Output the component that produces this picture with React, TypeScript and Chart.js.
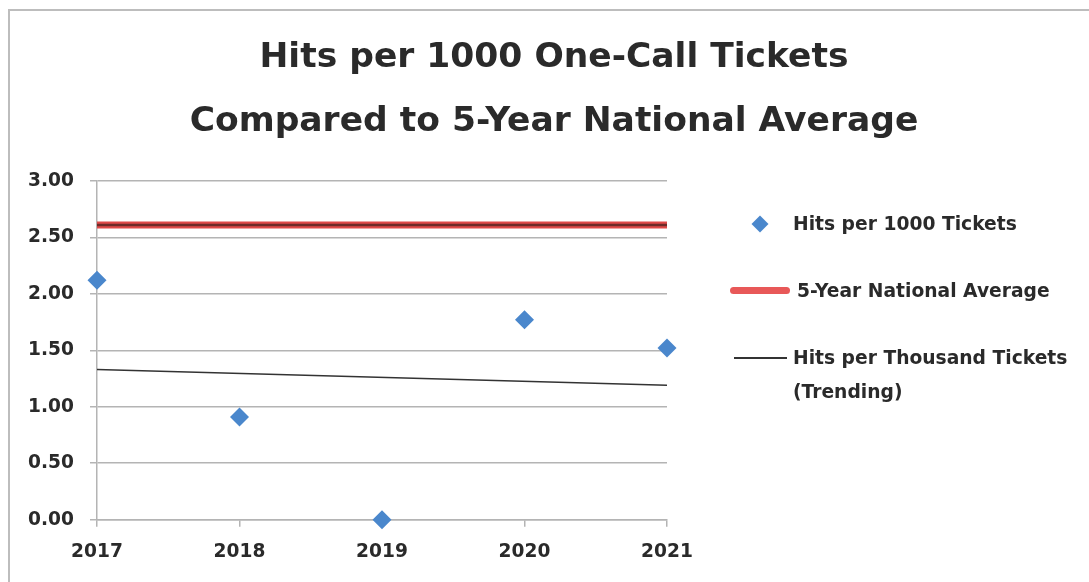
import React, { useEffect, useRef } from "react";
import { Chart, registerables } from "chart.js";

Chart.register(...registerables);

const years = ["2017", "2018", "2019", "2020", "2021"];
const hitsPer1000 = [2.12, 0.91, 0.0, 1.77, 1.52];
const nationalAverage = [2.61, 2.61, 2.61, 2.61, 2.61];
const trendEnds = [1.33, null, null, null, 1.19];
const yTicks = [0, 0.5, 1, 1.5, 2, 2.5, 3];
const titleLines = ["Hits per 1000 One-Call Tickets", "Compared to 5-Year National Average"];
const legendLabels = ["Hits per 1000 Tickets", "5-Year National Average", "Hits per Thousand Tickets", "(Trending)"];

const FONT = "'DejaVu Sans', Lato, sans-serif";
const TEXT = "#2a2a2a";
const GRID = "#b4b4b4";

export default function App() {
  const ref = useRef<HTMLCanvasElement | null>(null);

  useEffect(() => {
    if (!ref.current) return;
    const chart = new Chart(ref.current, {
      type: "line",
      data: {
        labels: years,
        datasets: [
          {
            label: "5-Year National Average",
            data: nationalAverage,
            borderColor: "#e04a48",
            borderWidth: 7,
            pointRadius: 0,
            order: 3,
          },
          {
            label: "5-Year National Average (core)",
            data: nationalAverage,
            borderColor: "#6e2b28",
            borderWidth: 2.5,
            pointRadius: 0,
            order: 2,
          },
          {
            label: "Hits per Thousand Tickets (Trending)",
            data: trendEnds,
            borderColor: "#333333",
            borderWidth: 1.5,
            pointRadius: 0,
            spanGaps: true,
            order: 1,
          },
          {
            label: "Hits per 1000 Tickets",
            data: hitsPer1000,
            showLine: false,
            pointStyle: "rectRot",
            pointRadius: 9.5,
            pointBackgroundColor: "#4a87cc",
            pointBorderColor: "#4a87cc",
            pointBorderWidth: 0,
            clip: false,
            order: 0,
          },
        ],
      },
      options: {
        animation: false,
        responsive: false,
        maintainAspectRatio: false,
        layout: { padding: { left: 9, right: 0, top: 0, bottom: 5 } },
        plugins: {
          legend: { display: false },
          tooltip: { enabled: false },
          title: {
            display: true,
            text: titleLines,
            color: TEXT,
            font: { family: FONT, size: 34.5, weight: "bold", lineHeight: 1.855 },
            padding: { top: 15.5, bottom: 26.5 },
          },
        },
        scales: {
          x: {
            type: "category",
            offset: false,
            grid: { display: true, drawOnChartArea: false, drawTicks: true, tickLength: 7, color: GRID, lineWidth: 1.5 },
            border: { display: true, color: GRID, width: 1.5 },
            ticks: { color: TEXT, font: { family: FONT, size: 18.6, weight: "bold" }, padding: 14, maxRotation: 0 },
          },
          y: {
            min: 0,
            max: 3,
            afterFit: (s: any) => { s.width = 78; },
            afterBuildTicks: (s: any) => { s.ticks = yTicks.map((v) => ({ value: v })); },
            grid: { color: GRID, lineWidth: 1.5, tickLength: 7 },
            border: { display: true, color: GRID, width: 1.5 },
            ticks: {
              color: TEXT,
              font: { family: FONT, size: 18.6, weight: "bold" },
              padding: 16,
              callback: (v: any) => Number(v).toFixed(2),
            },
          },
          yRightSpace: {
            type: "linear",
            position: "right",
            display: true,
            afterFit: (s: any) => { s.width = 422; },
            grid: { display: false, drawTicks: false },
            border: { display: false },
            ticks: { display: false },
          },
        },
      },
    });
    return () => chart.destroy();
  }, []);

  const textStyle: React.CSSProperties = {
    position: "absolute",
    fontFamily: FONT,
    fontWeight: 700,
    fontSize: 18.7,
    color: TEXT,
    lineHeight: "34px",
    whiteSpace: "nowrap",
  };

  return (
    <div
      style={{
        position: "fixed",
        left: 8,
        top: 9,
        width: 1081,
        height: 573,
        borderLeft: "2px solid #bdbdbd",
        borderTop: "2px solid #bdbdbd",
        background: "#fff",
        overflow: "hidden",
      }}
    >
      <canvas ref={ref} width={1079} height={571} style={{ position: "absolute", left: 0, top: 0, width: 1079, height: 571 }} />
      <div
        style={{
          position: "absolute",
          left: 744,
          top: 207,
          width: 12,
          height: 12,
          background: "#4a87cc",
          transform: "rotate(45deg)",
        }}
      />
      <div style={{ ...textStyle, left: 783, top: 196 }}>{legendLabels[0]}</div>
      <div style={{ position: "absolute", left: 720, top: 276, width: 60, height: 7, borderRadius: 4, background: "#e85858" }} />
      <div style={{ ...textStyle, left: 787, top: 263 }}>{legendLabels[1]}</div>
      <div style={{ position: "absolute", left: 724, top: 346, width: 53, height: 1.5, background: "#333" }} />
      <div style={{ ...textStyle, left: 783, top: 330 }}>
        {legendLabels[2]}
        <br />
        {legendLabels[3]}
      </div>
    </div>
  );
}
